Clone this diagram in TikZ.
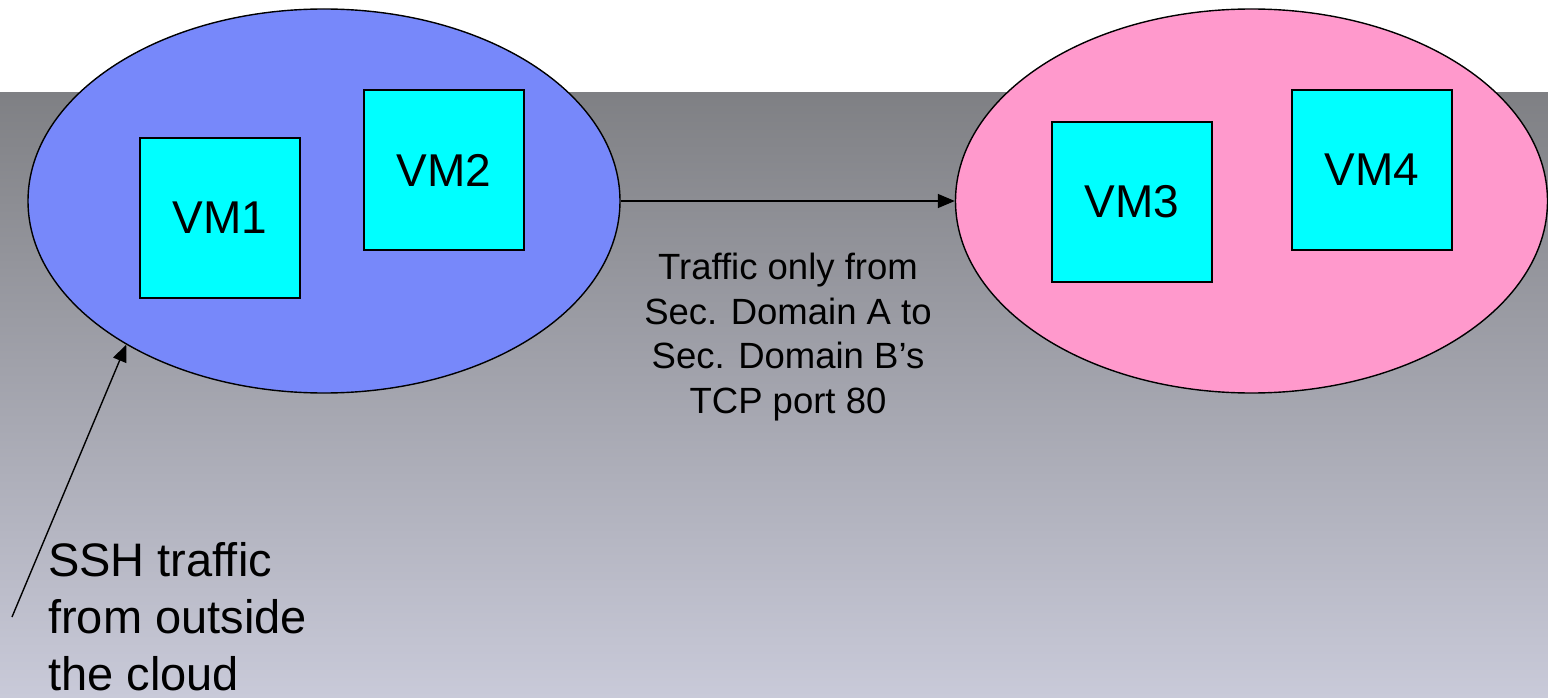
\documentclass[tikz,border=0pt]{standalone}
\usepackage{fontspec}
\setmainfont{Liberation Sans}
\usetikzlibrary{shapes.geometric,arrows.meta}
\definecolor{domA}{RGB}{119,136,250}
\definecolor{domB}{RGB}{255,153,204}
\definecolor{vmcyan}{RGB}{0,255,255}
\definecolor{bgtop}{RGB}{127,128,132}
\definecolor{bgbottom}{RGB}{201,202,217}
\tikzset{
  secdomain/.style={ellipse, draw=black, line width=1.4pt, inner sep=0pt,
    minimum width=592pt, minimum height=384pt},
  vmbox/.style={rectangle, draw=black, line width=2pt, fill=vmcyan, inner sep=0pt,
    minimum width=160pt, minimum height=160pt,
    font=\fontsize{46}{50}\selectfont},
  flow/.style={line width=1.4pt, -{Triangle[length=17pt,width=14pt]}},
  note/.style={inner sep=0pt, text=black}
}
\begin{document}
\begin{tikzpicture}[x=1pt,y=-1pt]
  \useasboundingbox (0,0) rectangle (1548,698);
  % white header and shaded backdrop
  \fill[white] (0,0) rectangle (1548,698);
  \shade[top color=bgtop, bottom color=bgbottom] (0,93) rectangle (1548,698);

  % security domains
  \node[secdomain, fill=domA] (A) at (324,201) {};
  \node[secdomain, fill=domB] (B) at (1251.5,201) {};

  % virtual machines
  \node[vmbox] (vm1) at (220,218) {VM1};
  \node[vmbox] (vm2) at (444,170) {VM2};
  \node[vmbox] (vm3) at (1132,202) {VM3};
  \node[vmbox] (vm4) at (1372,170) {VM4};

  % allowed traffic between the domains
  \draw[flow] (A.east) -- (B.west);
  \node[note, anchor=base, align=center,
        font=\fontsize{36.5}{44.5}\selectfont] (rule) at (788,413)
    {Traffic only from\\Sec. Domain A to\\Sec. Domain B’s\\TCP port 80};

  % external SSH access
  \coordinate (outside) at (12,617);
  \draw[flow] (outside) -- (A.-144);
  \node[note, anchor=base west, align=left,
        font=\fontsize{47}{57}\selectfont] (ssh) at (48,690)
    {SSH traffic\\from outside\\the cloud};
\end{tikzpicture}
\end{document}
